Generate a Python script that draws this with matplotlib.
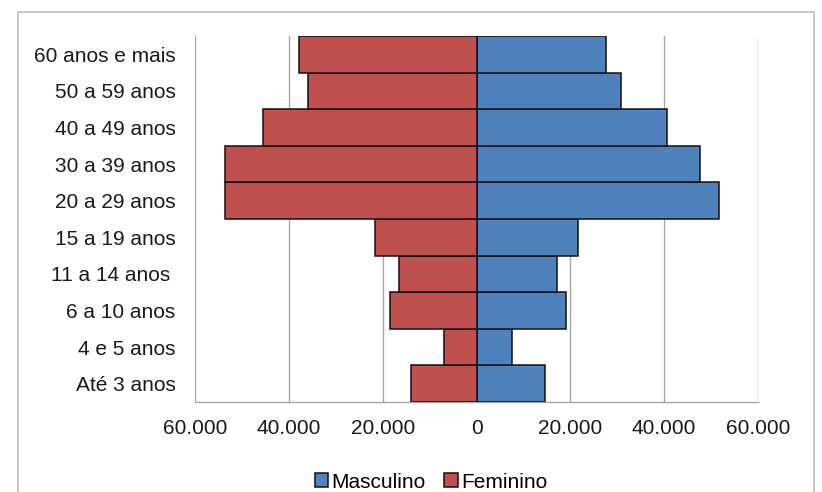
"""Pirâmide etária por sexo (barras horizontais espelhadas)."""

import matplotlib

matplotlib.use("Agg")
import matplotlib.pyplot as plt
from matplotlib.patches import Rectangle
from matplotlib.ticker import FuncFormatter

plt.rcParams["font.family"] = ["Liberation Sans", "DejaVu Sans"]

# faixas etárias, de baixo para cima
faixas = [
    "Até 3 anos",
    "4 e 5 anos",
    "6 a 10 anos",
    "11 a 14 anos ",
    "15 a 19 anos",
    "20 a 29 anos",
    "30 a 39 anos",
    "40 a 49 anos",
    "50 a 59 anos",
    "60 anos e mais",
]
masculino = [14600, 7500, 19000, 17100, 21700, 51600, 47700, 40700, 30900, 27600]
feminino = [13900, 6900, 18400, 16500, 21600, 53600, 53600, 45600, 36000, 37900]
ticks_x = [-60000, -40000, -20000, 0, 20000, 40000, 60000]

AZUL = "#4F81BD"
VERMELHO = "#C0504D"
GRADE = "#a6a6a6"

fig = plt.figure(figsize=(8.22, 4.92), dpi=100)
ax = fig.add_axes([195 / 822, 1 - 402 / 492, (758 - 195) / 822, (402 - 36) / 492])

pos = range(len(faixas))
ax.barh(pos, masculino, height=1.0, color=AZUL, edgecolor="#111111",
        linewidth=1.1, label="Masculino", zorder=3)
ax.barh(pos, [-v for v in feminino], height=1.0, color=VERMELHO,
        edgecolor="#111111", linewidth=1.1, label="Feminino", zorder=3)

ax.set_xlim(-60000, 60000)
ax.set_ylim(-0.5, len(faixas) - 0.5)
ax.set_xticks(ticks_x)
ax.xaxis.set_major_formatter(
    FuncFormatter(lambda v, _: f"{abs(int(v)):,}".replace(",", "."))
)
ax.set_yticks(list(pos))
ax.set_yticklabels(faixas)

# grade vertical e eixo inferior
ax.grid(axis="x", color=GRADE, linewidth=1.0, zorder=0)
for lado in ("top", "right", "left"):
    ax.spines[lado].set_visible(False)
ax.spines["bottom"].set_color(GRADE)
ax.spines["bottom"].set_linewidth(1.0)
ax.tick_params(axis="both", length=0, labelsize=15, colors="#1a1a1a")
ax.tick_params(axis="y", pad=14)
ax.tick_params(axis="x", pad=12)

# legenda com marcadores quadrados
handles, labels = ax.get_legend_handles_labels()
leg = fig.legend(
    handles, labels, loc="center", bbox_to_anchor=(431 / 822, 1 - 482 / 492),
    ncol=2, frameon=False, fontsize=15, handlelength=0.65, handleheight=0.65,
    handletextpad=0.15, columnspacing=0.9, borderaxespad=0,
)

# moldura externa do gráfico
fig.patches.append(Rectangle(
    (18 / 822, -0.05), (814 - 18) / 822, 1.05 - 12 / 492,
    transform=fig.transFigure, fill=False, edgecolor="#bdbdbd", linewidth=1.2,
))

fig.savefig("out.png", dpi=100, facecolor="white")
